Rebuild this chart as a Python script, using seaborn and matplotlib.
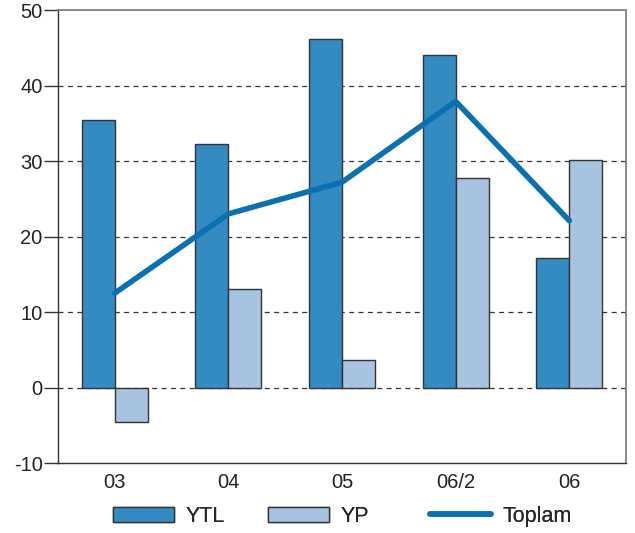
import matplotlib
matplotlib.use("Agg")
import matplotlib.pyplot as plt
from matplotlib.patches import Patch
from matplotlib.lines import Line2D
import seaborn as sns
import pandas as pd

categories = ["03", "04", "05", "06/2", "06"]
ytl = [35.4, 32.3, 46.2, 44.1, 17.1]
yp = [-4.6, 13.0, 3.6, 27.8, 30.2]
toplam = [12.5, 23.0, 27.2, 37.9, 22.1]
y_ticks = [-10, 0, 10, 20, 30, 40, 50]

c_ytl = "#338bc2"
c_yp = "#a7c3e0"
c_line = "#0a70b0"
edge = "#333333"

sns.set_theme(style="white")
plt.rcParams["font.family"] = ["Liberation Sans", "DejaVu Sans"]
plt.rcParams["axes.unicode_minus"] = False

bars = pd.DataFrame({
    "cat": categories * 2,
    "val": ytl + yp,
    "series": ["YTL"] * len(categories) + ["YP"] * len(categories),
})
line = pd.DataFrame({"cat": categories, "val": toplam})

fig = plt.figure(figsize=(6.35, 5.33), dpi=100)
ax = fig.add_axes([0.0913, 0.1313, 0.8947, 0.8499])

for y in y_ticks[1:-1]:
    ax.axhline(y, color="#333333", lw=0.9, ls=(0, (4, 3.5)), zorder=0)

sns.barplot(data=bars, x="cat", y="val", hue="series", order=categories,
            hue_order=["YTL", "YP"], palette={"YTL": c_ytl, "YP": c_yp},
            width=0.58, gap=0, edgecolor=edge, linewidth=1.0,
            saturation=1, legend=False, ax=ax, zorder=2)
sns.lineplot(data=line, x="cat", y="val", color=c_line, lw=4.0,
             ax=ax, zorder=3, sort=False)

ax.set_xlim(-0.5, len(categories) - 0.5)
ax.set_ylim(-10, 50)
ax.set_yticks(y_ticks)
ax.set_xlabel("")
ax.set_ylabel("")
ax.set_xticks(range(len(categories)))
ax.set_xticklabels(categories)
ax.set_xticks([i - 0.5 for i in range(len(categories) + 1)], minor=True)
ax.tick_params(axis="x", which="major", length=0, pad=7, labelsize=14.5,
               labelcolor="#222222")
ax.tick_params(axis="x", which="minor", length=14, width=1.0, color="#333333",
               direction="out")
ax.tick_params(axis="y", length=10, width=1.0, color="#333333", pad=1,
               labelsize=14.5, labelcolor="#222222", left=True)

for side in ["left", "bottom"]:
    ax.spines[side].set_color("#333333")
    ax.spines[side].set_linewidth(1.0)
for side in ["top", "right"]:
    ax.spines[side].set_color("#808080")
    ax.spines[side].set_linewidth(1.3)

# one legend entry per key, laid out along the bottom edge
entries = [
    (Patch(facecolor=c_ytl, edgecolor=edge, linewidth=1.0, label="YTL"), 0.178),
    (Patch(facecolor=c_yp, edgecolor=edge, linewidth=1.0, label="YP"), 0.422),
    (Line2D([0], [0], color=c_line, lw=4.0, label="Toplam"), 0.677),
]
for handle, x0 in entries:
    leg = fig.legend(handles=[handle], loc="center left",
                     bbox_to_anchor=(x0, 0.031), frameon=False, fontsize=15.5,
                     handlelength=2.85, handleheight=0.75, handletextpad=0.5,
                     borderpad=0, borderaxespad=0)
    fig.add_artist(leg)

fig.savefig("out.png", dpi=100)
